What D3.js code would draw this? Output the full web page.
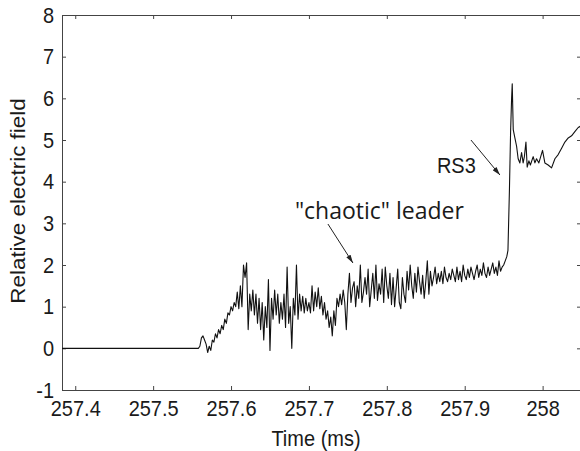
<!DOCTYPE html>
<html>
<head>
<meta charset="utf-8">
<script src="https://cdn.jsdelivr.net/npm/d3@7"></script>
<style>
    body { margin: 0; background: #fff; }
    svg { display: block; }
</style>
</head>
<body>
<div id="chart"></div>
<script>
const width = 580;
const height = 451;
const margin = {top: 15, right: 0, bottom: 61, left: 62};
const textStretch = 1.12;
const colorAxis = "#444";
const colorText = "#1a1a1a";
const colorTrace = "#111";

const xDomain = [257.383, 258.048];
const yDomain = [-1, 8];
const xTicks = [257.4, 257.5, 257.6, 257.7, 257.8, 257.9, 258];
const xTickLabels = ["257.4", "257.5", "257.6", "257.7", "257.8", "257.9", "258"];
const yTicks = [-1, 0, 1, 2, 3, 4, 5, 6, 7, 8];
const yTickLabels = ["-1", "0", "1", "2", "3", "4", "5", "6", "7", "8"];

// quiet part before the leader, [time (ms), field]
const baseline = [[257.383, 0], [257.45, 0], [257.50, 0], [257.556, 0]];

// leader, one sample every leaderStep ms starting at leaderStart
const leaderStart = 257.558;
const leaderStep = 0.002;
const leader = [
    0.0, 0.05, 0.25, 0.3, 0.2, 0.1, -0.1, 0.05, -0.05, 0.2,
    0.15, 0.35, 0.25, 0.45, 0.35, 0.55, 0.45, 0.7, 0.6, 0.85,
    0.8, 1.0, 0.9, 1.1, 1.0, 1.35, 0.95, 1.5, 1.0, 2.0,
    1.7, 2.05, 0.45, 1.3, 0.9, 1.4, 0.8, 1.3, 0.6, 1.2,
    0.45, 1.1, 0.2, 1.0, 0.5, 1.65, -0.05, 1.2, 0.7, 1.4,
    0.8, 1.3, 0.6, 1.1, 0.7, 1.3, 0.5, 1.95, 0.6, 1.0,
    0.0, 1.2, 0.8, 2.0, 0.7, 1.3, 0.9, 1.25, 0.85, 1.2,
    0.9, 1.1, 0.85, 1.5, 0.9, 1.35, 1.0, 1.45, 0.95, 1.25,
    0.8, 1.1, 0.7, 0.9, 0.5, 0.75, 0.3, 0.9, 0.55, 1.2,
    1.0, 1.3, 1.05, 1.4, 1.1,
    0.45, 1.3, 1.8, 1.1, 1.45, 1.6, 1.0, 1.5, 1.2, 2.0,
    1.1, 1.35, 1.7, 1.3, 1.9, 1.0, 1.4, 1.8, 1.2, 2.0,
    1.15, 1.55, 1.3, 1.9, 1.1, 1.95, 1.5, 1.2, 1.8, 1.05,
    1.7, 1.0, 1.45, 1.9, 1.1,
    0.95, 1.7, 1.3, 1.1, 1.85, 1.4, 2.0, 1.5, 1.2, 1.8,
    1.35, 1.95, 1.6, 1.3, 1.75, 1.2, 1.6, 2.1, 1.3, 1.85,
    1.5, 1.7, 1.95, 1.55, 1.8, 1.6, 1.85, 1.55, 1.95, 1.7,
    1.6, 1.8, 1.65, 1.9, 1.75, 1.6, 1.95, 1.65,
    1.85, 1.6, 2.0, 1.75, 1.65, 1.9, 1.7, 1.95, 1.8, 1.65,
    1.85, 2.0, 1.7, 1.9, 1.75, 2.05, 1.8, 1.7, 1.95, 1.75,
    1.9, 2.05, 1.8, 1.95, 1.75, 2.1, 1.85, 1.95, 2.0, 2.1, 2.2
];

// return stroke RS3 and what follows, [time (ms), field]
const returnStroke = [
    [257.9555, 2.35], [257.9574, 3.8], [257.9589, 5.2], [257.9602, 6.0], [257.961, 6.35],
    [257.9623, 5.25], [257.9644, 5.05], [257.9666, 4.85], [257.9686, 4.55], [257.9708, 4.45],
    [257.973, 4.7], [257.975, 4.45], [257.9766, 4.6], [257.9786, 4.95], [257.9802, 4.35],
    [257.9824, 4.5], [257.9843, 4.4], [257.9879, 4.6], [257.9901, 4.45], [257.9922, 4.55],
    [257.9952, 4.45], [257.9999, 4.75], [258.0029, 4.45], [258.0071, 4.4], [258.0115, 4.33],
    [258.0158, 4.55], [258.02, 4.65], [258.0244, 4.8], [258.0286, 4.95], [258.0329, 5.05],
    [258.0372, 5.1], [258.0414, 5.2], [258.0457, 5.3], [258.0505, 5.35]
];

// annotations in data coordinates: text anchor, arrow start, arrow end
const labelRS3 = {text: "RS3", at: [257.8643, 4.22], from: [257.908, 5.0], to: [257.9452, 4.16]};
const labelLeader = {text: "\"chaotic\" leader", at: [257.682, 3.104], from: [257.7244, 2.984], to: [257.7565, 2.048]};

const points = baseline
    .concat(leader.map((v, i) => [leaderStart + i * leaderStep, v]))
    .concat(returnStroke);

const x = d3.scaleLinear().domain(xDomain).range([margin.left, width - margin.right]);
const y = d3.scaleLinear().domain(yDomain).range([height - margin.bottom, margin.top]);

const svg = d3.select("#chart")
    .append("svg")
    .attr("width", width)
    .attr("height", height)
    .style("font-family", "'Liberation Sans', Arial, sans-serif");

const defs = svg.append("defs");

defs.append("clipPath")
    .attr("id", "plot-clip")
    .append("rect")
    .attr("x", margin.left)
    .attr("y", margin.top)
    .attr("width", width - margin.left - margin.right + 2)
    .attr("height", height - margin.top - margin.bottom);

defs.append("marker")
    .attr("id", "arrow")
    .attr("viewBox", "0 0 10 6")
    .attr("refX", 10)
    .attr("refY", 3)
    .attr("markerUnits", "userSpaceOnUse")
    .attr("markerWidth", 9)
    .attr("markerHeight", 5)
    .attr("orient", "auto")
    .append("path")
    .attr("d", "M0,0 L10,3 L0,6 Z")
    .attr("fill", "#222");

// the right border sits just past the window edge, only its ticks show
const xRight = width + 3;

function styleAxis(g) {
    g.select(".domain").attr("stroke", colorAxis).attr("stroke-width", 1);
    g.selectAll(".tick line").attr("stroke", colorAxis);
    g.selectAll("text")
        .attr("fill", colorText)
        .style("font-size", "20px")
        .attr("transform", `scale(1,${textStretch})`);
}

svg.append("g")
    .attr("transform", `translate(0,${y(yDomain[0])})`)
    .call(d3.axisBottom(x).tickValues(xTicks).tickFormat((d, i) => xTickLabels[i])
        .tickSizeInner(-4).tickSizeOuter(0).tickPadding(9))
    .call(styleAxis);

svg.append("g")
    .attr("transform", `translate(0,${y(yDomain[1])})`)
    .call(d3.axisTop(x).tickValues(xTicks).tickFormat("")
        .tickSizeInner(-4).tickSizeOuter(0))
    .call(styleAxis);

svg.append("g")
    .attr("transform", `translate(${margin.left},0)`)
    .call(d3.axisLeft(y).tickValues(yTicks).tickFormat((d, i) => yTickLabels[i])
        .tickSizeInner(-4).tickSizeOuter(0).tickPadding(8))
    .call(styleAxis);

svg.append("g")
    .attr("transform", `translate(${xRight},0)`)
    .call(d3.axisRight(y).tickValues(yTicks).tickFormat("")
        .tickSizeInner(-6).tickSizeOuter(0))
    .call(styleAxis);

const line = d3.line()
    .x(d => x(d[0]))
    .y(d => y(d[1]));

svg.append("path")
    .datum(points)
    .attr("clip-path", "url(#plot-clip)")
    .attr("fill", "none")
    .attr("stroke", colorTrace)
    .attr("stroke-width", 1.1)
    .attr("stroke-linejoin", "round")
    .attr("d", line);

// annotations
svg.append("text")
    .attr("transform", `translate(${x(labelRS3.at[0])},${y(labelRS3.at[1])}) scale(1,${textStretch})`)
    .attr("fill", colorText)
    .style("font-size", "20px")
    .text(labelRS3.text);

svg.append("text")
    .attr("x", x(labelLeader.at[0]))
    .attr("y", y(labelLeader.at[1]))
    .attr("fill", colorText)
    .style("font-family", "'Open Sans', sans-serif")
    .style("font-size", "23px")
    .text(labelLeader.text);

for(const a of [labelRS3, labelLeader]) {
    svg.append("line")
        .attr("x1", x(a.from[0]))
        .attr("y1", y(a.from[1]))
        .attr("x2", x(a.to[0]))
        .attr("y2", y(a.to[1]))
        .attr("stroke", "#222")
        .attr("stroke-width", 1)
        .attr("marker-end", "url(#arrow)");
}

// axis titles
svg.append("text")
    .attr("transform", `translate(${(margin.left + width) / 2 - 5},446) scale(1,${textStretch})`)
    .attr("text-anchor", "middle")
    .attr("fill", colorText)
    .style("font-size", "20px")
    .text("Time (ms)");

svg.append("text")
    .attr("transform", `translate(25,201) scale(1,${textStretch}) rotate(-90)`)
    .attr("text-anchor", "middle")
    .attr("fill", colorText)
    .style("font-size", "20px")
    .text("Relative electric field");
</script>
</body>
</html>
